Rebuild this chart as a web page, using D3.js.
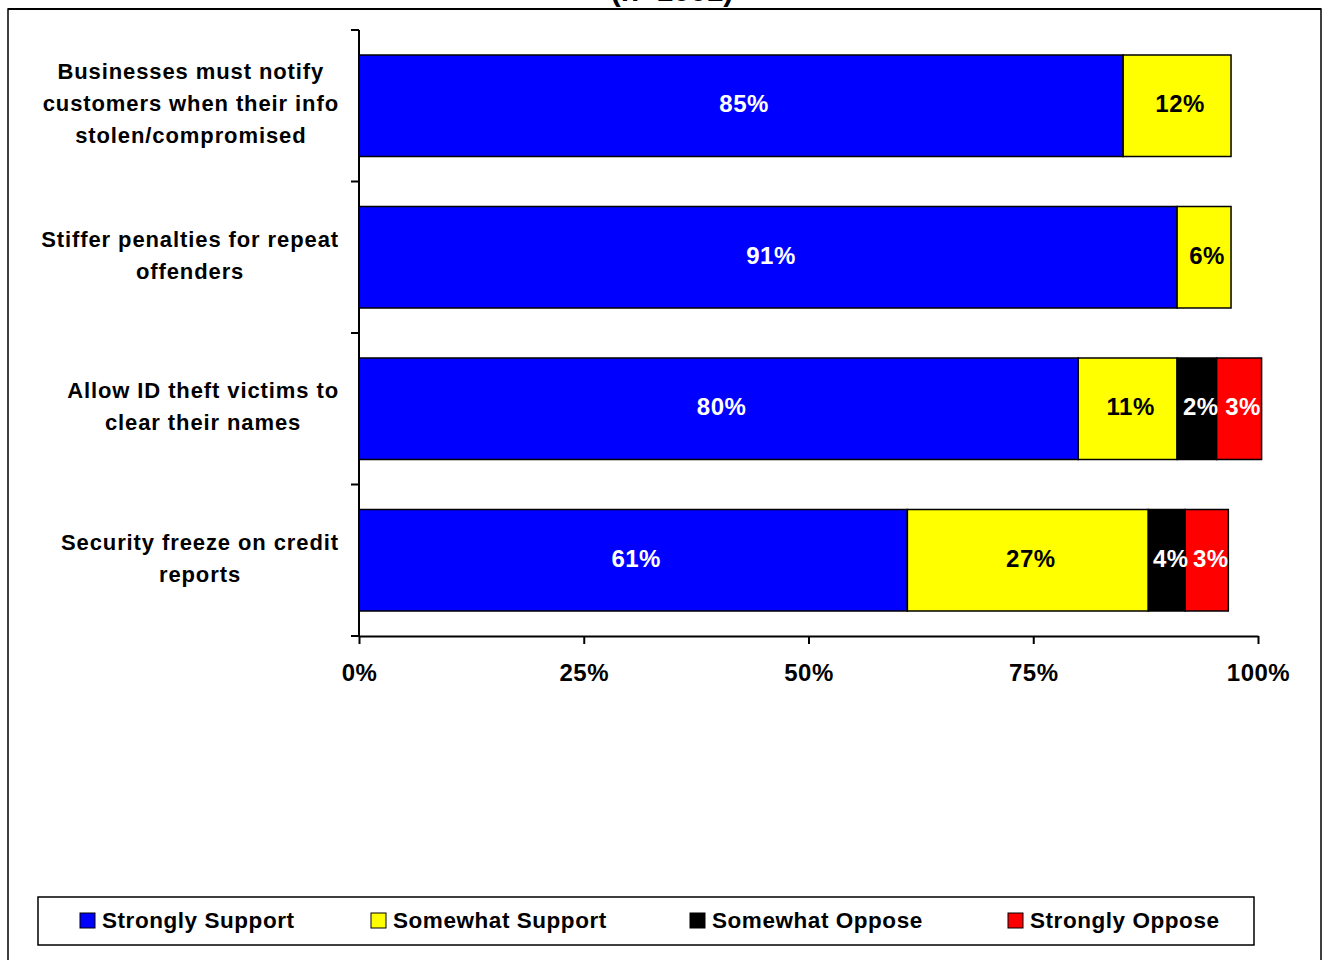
<!DOCTYPE html>
<html><head><meta charset="utf-8">
<script src="https://cdn.jsdelivr.net/npm/d3@7"></script>
<style>
body{margin:0;background:#fff}
svg{display:block}
text{font-family:"Liberation Sans",Arial,sans-serif;font-weight:bold}
</style></head><body>
<svg id="c" width="1322" height="960"></svg>
<script>
const title = "(n=1001)";
const categories = ["notify","penalties","clear","freeze"];
const categoryLines = [
  ["Businesses must notify","customers when their info","stolen/compromised"],
  ["Stiffer penalties for repeat","offenders"],
  ["Allow ID theft victims to","clear their names"],
  ["Security freeze on credit","reports"]
];
const seriesNames = ["Strongly Support","Somewhat Support","Somewhat Oppose","Strongly Oppose"];
const seriesColors = ["#0000ff","#ffff00","#000000","#ff0000"];
const labelColors = ["#ffffff","#000000","#ffffff","#ffffff"];
const stronglySupport = [85, 91, 80, 61];
const somewhatSupport = [12, 6, 11, 26.8];
const somewhatOppose  = [0, 0, 4.4, 4.1];
const stronglyOppose  = [0, 0, 5, 4.8];
const labelsStronglySupport = ["85%","91%","80%","61%"];
const labelsSomewhatSupport = ["12%","6%","11%","27%"];
const labelsSomewhatOppose  = ["","","2%","4%"];
const labelsStronglyOppose  = ["","","3%","3%"];
const xTicks = [0, 25, 50, 75, 100];

const series = [stronglySupport, somewhatSupport, somewhatOppose, stronglyOppose];
const seriesLabels = [labelsStronglySupport, labelsSomewhatSupport, labelsSomewhatOppose, labelsStronglyOppose];

const svg = d3.select("#c");

// outer frame
svg.append("rect").attr("x",8).attr("y",9).attr("width",1313).attr("height",970)
  .attr("fill","#fff").attr("stroke","#000").attr("stroke-width",1.5);

// title (cut at the top edge, as in the reference)
svg.append("text").attr("x",672).attr("y",1).attr("text-anchor","middle")
  .style("font-size","30px").text(title);
svg.append("line").attr("x1",8).attr("x2",1321).attr("y1",9).attr("y2",9)
  .attr("stroke","#000").attr("stroke-width",2);

const x = d3.scaleLinear().domain([0,100]).range([359,1258]);
const y = d3.scaleBand().domain(categories).range([30,636]).paddingInner(0.33).paddingOuter(0.165);

// bars
const rows = categories.map((c,i)=>{
  let acc = 0;
  return series.map((s,k)=>{ const seg={cat:c,k,x0:acc,x1:acc+s[i],label:seriesLabels[k][i]}; acc+=s[i]; return seg;}).filter(d=>d.x1>d.x0);
}).flat();

svg.append("g").selectAll("rect").data(rows).join("rect")
  .attr("x",d=>x(d.x0)).attr("y",d=>y(d.cat))
  .attr("width",d=>x(d.x1)-x(d.x0)).attr("height",y.bandwidth())
  .attr("fill",d=>seriesColors[d.k]).attr("stroke","#000").attr("stroke-width",1.5);

svg.append("g").selectAll("text").data(rows.filter(d=>d.label)).join("text")
  .attr("x",d=>(x(d.x0)+x(d.x1))/2+(d.k>=2?4:3)).attr("y",d=>y(d.cat)+y.bandwidth()/2-2)
  .attr("dy","0.35em").attr("text-anchor","middle")
  .attr("fill",d=>labelColors[d.k]).style("font-size","24px").style("letter-spacing","0.5px")
  .text(d=>d.label);

// y axis
const step = y.step();
const yAxis = svg.append("g");
yAxis.append("line").attr("x1",359).attr("x2",359).attr("y1",30).attr("y2",636).attr("stroke","#000").attr("stroke-width",2);
yAxis.selectAll(".yt").data(d3.range(categories.length+1)).join("line")
  .attr("x1",351).attr("x2",359).attr("y1",i=>30+i*step).attr("y2",i=>30+i*step)
  .attr("stroke","#000").attr("stroke-width",2);

// x axis
const xAxis = svg.append("g").attr("transform","translate(0,636)")
  .call(d3.axisBottom(x).tickValues(xTicks).tickSize(8).tickSizeOuter(0).tickFormat(d=>d+"%"));
xAxis.select(".domain").attr("stroke","#000").attr("stroke-width",2);
xAxis.selectAll(".tick line").attr("stroke","#000").attr("stroke-width",2);
xAxis.selectAll(".tick text").attr("y",37).attr("dy","0.35em").attr("fill","#000")
  .style("font-size","24px").style("letter-spacing","0.5px")
  .style("font-family",'"Liberation Sans",Arial,sans-serif').style("font-weight","bold");

// category labels: block right-aligned at 339, lines centered in block
categories.forEach((c,i)=>{
  const lines = categoryLines[i];
  const g = svg.append("g");
  const cy = y(c)+y.bandwidth()/2-2;
  const lh = 32;
  const ts = lines.map((l,j)=>g.append("text").attr("y",cy+(j-(lines.length-1)/2)*lh).attr("dy","0.35em")
    .attr("text-anchor","middle").style("font-size","22px").style("letter-spacing","0.9px").text(l));
  const w = d3.max(ts,t=>t.node().getComputedTextLength());
  ts.forEach(t=>t.attr("x",339-w/2));
});

// legend
svg.append("rect").attr("x",38).attr("y",897).attr("width",1216).attr("height",48)
  .attr("fill","#fff").attr("stroke","#000").attr("stroke-width",1.5);
const legX = [80,371,690,1008];
const lg = svg.append("g").selectAll("g").data(seriesNames).join("g")
  .attr("transform",(d,i)=>`translate(${legX[i]},913)`);
lg.append("rect").attr("width",15).attr("height",15).attr("fill",(d,i)=>seriesColors[i]).attr("stroke","#000").attr("stroke-width",1);
lg.append("text").attr("x",22).attr("y",7.5).attr("dy","0.35em").style("font-size","22.5px").style("letter-spacing","0.55px").text(d=>d);
</script>
</body></html>
